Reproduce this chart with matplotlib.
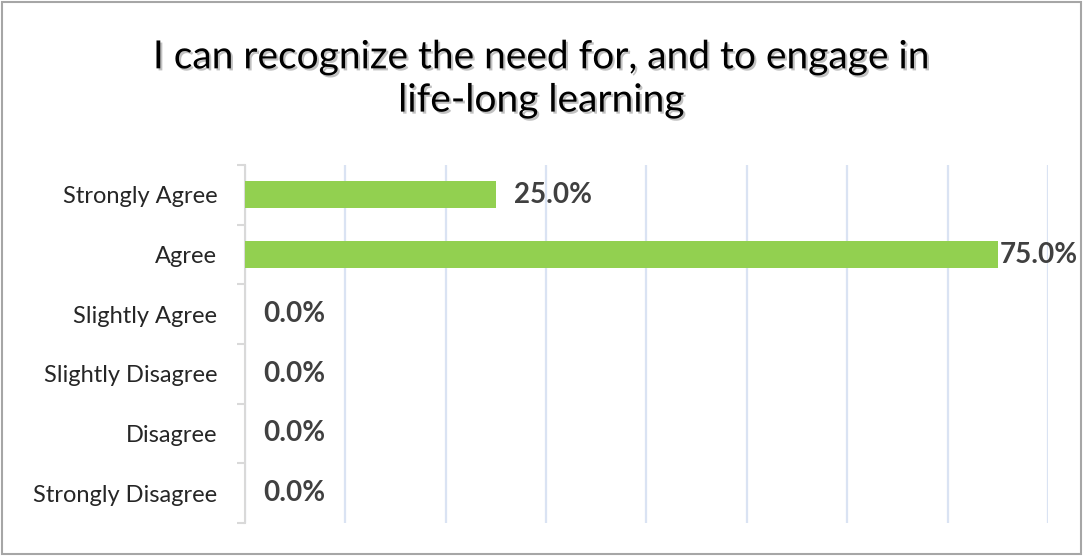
import matplotlib.pyplot as plt
import matplotlib.patheffects as pe
from matplotlib.patches import Rectangle
from matplotlib.ticker import MultipleLocator, FixedLocator

# data
categories = ['Strongly Agree', 'Agree', 'Slightly Agree', 'Slightly Disagree',
              'Disagree', 'Strongly Disagree']
values = [0.25, 0.75, 0.0, 0.0, 0.0, 0.0]
title = 'I can recognize the need for, and to engage in\nlife-long learning'

plt.rcParams['font.family'] = ['Lato', 'DejaVu Sans']

fig = plt.figure(figsize=(10.83, 5.56), dpi=100)
ax = fig.add_axes([0.2262, 0.0594, 0.7415, 0.6438])

y = list(range(len(categories)))
ax.barh(y, values, height=0.45, color='#92d050', zorder=3)

ax.set_xlim(0, 0.8)
ax.set_ylim(len(categories) - 0.5, -0.5)
ax.xaxis.set_major_locator(MultipleLocator(0.1))
ax.grid(axis='x', color='#dae3f3', linewidth=1.6, zorder=0)
ax.tick_params(axis='x', length=0, labelbottom=False)

# category labels, tick marks at the boundaries
ax.set_yticks(y)
ax.set_yticklabels(categories, fontsize=17, color='#262626')
ax.tick_params(axis='y', which='major', length=0, pad=20)
ax.yaxis.set_minor_locator(FixedLocator([i - 0.5 for i in range(len(categories) + 1)]))
ax.tick_params(axis='y', which='minor', length=6, width=1.5, color='#d9d9d9')

for s in ['top', 'right', 'bottom']:
    ax.spines[s].set_visible(False)
ax.spines['left'].set_color('#d9d9d9')
ax.spines['left'].set_linewidth(1.5)

for i, v in enumerate(values):
    pad = 1.5 if v > 0.7 else 13
    ax.annotate(f'{v*100:.1f}%', (v, i), xytext=(pad, 0), textcoords='offset points',
                va='center', ha='left', fontsize=20, fontweight='bold',
                color='#404040', zorder=4, annotation_clip=False)

fig.text(0.5, 0.858, title, ha='center', va='center', fontsize=28,
         color='black', linespacing=1.25,
         path_effects=[pe.withSimplePatchShadow(offset=(1.5, -1.5), shadow_rgbFace='#999999', alpha=0.6)])

fig.patches.append(Rectangle((0.002, 0.004), 0.996, 0.992, transform=fig.transFigure,
                             fill=False, edgecolor='#a6a6a6', linewidth=1.5))

fig.savefig('out.png', dpi=100)
